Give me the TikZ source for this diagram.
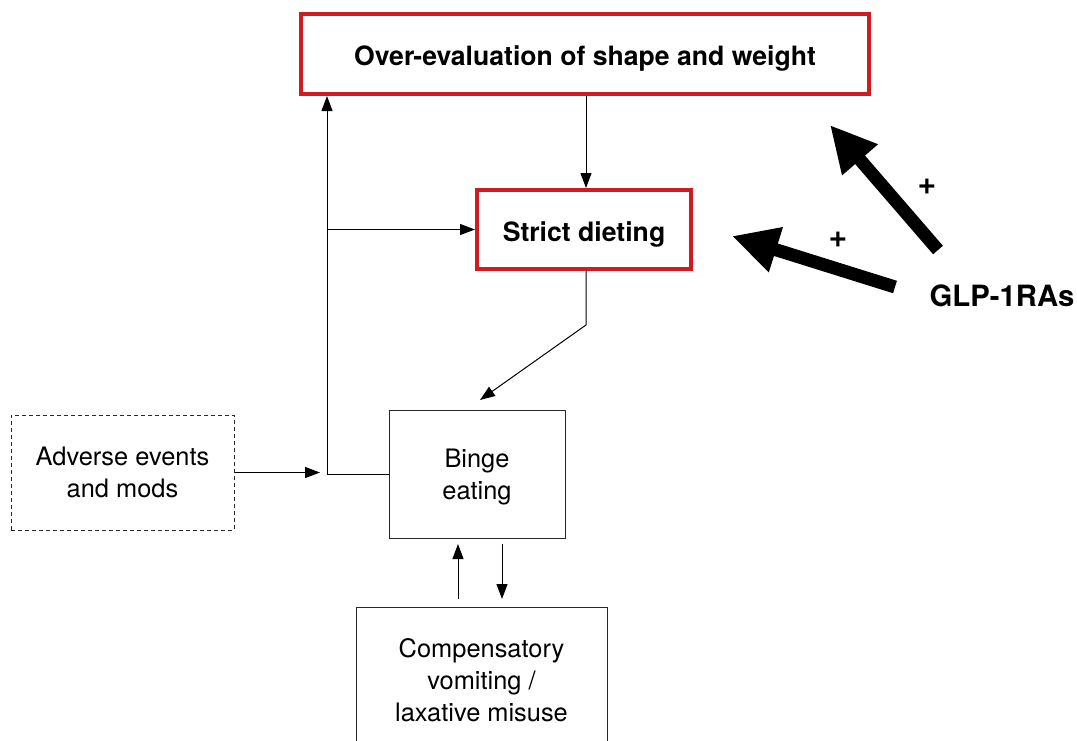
\documentclass[tikz,border=0pt]{standalone}
\usepackage{fontspec}
\setmainfont{TeX Gyre Heros}
\usetikzlibrary{arrows.meta,calc}
\definecolor{boxred}{RGB}{208,27,32}
\definecolor{linegray}{RGB}{40,40,40}
\begin{document}
\begin{tikzpicture}[x=1pt,y=-1pt,
  redbox/.style={draw=boxred, line width=4pt, align=center, inner sep=0pt,
    text height=23pt, text depth=0pt,
    font=\bfseries\fontsize{26.6}{30}\selectfont},
  plainbox/.style={draw=linegray, line width=1pt, align=center, inner sep=0pt,
    font=\fontsize{25.4}{32}\selectfont},
  dashbox/.style={plainbox, dash pattern=on 4pt off 3pt},
  arr/.style={-{Triangle[length=15pt,width=11pt]}, line width=1pt, draw=black},
  bigarr/.style={-{Triangle[length=46pt,width=44pt]}, line width=13pt, draw=black},
  plus/.style={font=\bfseries\fontsize{32}{34}\selectfont, inner sep=0pt},
  glpstyle/.style={font=\bfseries\fontsize{29.3}{34}\selectfont, inner sep=0pt}]
\useasboundingbox (0,0) rectangle (1077,740);
\clip (0,0) rectangle (1077,740);

\node[redbox, minimum width=568, minimum height=80] (top) at (585,54) {Over-evaluation of shape and weight};
\node[redbox, minimum width=214, minimum height=79] (strict) at (584,229.5) {Strict dieting};
\node[plainbox, minimum width=176, minimum height=128, text depth=-10pt] (binge) at (477,474) {Binge\\eating};
\node[dashbox, minimum width=223, minimum height=115] (adv) at (122.5,472.5) {Adverse events\\and mods};
\node[plainbox, minimum width=251, minimum height=146] (comp) at (481.5,680) {Compensatory\\vomiting /\\laxative misuse};

\coordinate (jx) at (327,0);
\coordinate (bend) at (586,325);
\coordinate (btip) at (480,400);
\coordinate (upS) at (458,599);
\coordinate (upE) at (458,544);
\coordinate (dnS) at (502,544);
\coordinate (dnE) at (502,599);

% connectors
\draw[arr] (top.south -| bend) -- (strict.north -| bend);
\draw[arr] (binge.west) -- (binge.west -| jx) -- (top.south -| jx);
\draw[arr] (strict.west -| jx) -- (strict.west);
\draw[arr] (adv.east) -- ($(adv.east -| jx)+(-7,0)$);
\draw[arr] (strict.south -| bend) -- (bend) -- (btip);
\draw[arr] (upS) -- (upE);
\draw[arr] (dnS) -- (dnE);

% GLP-1RAs
\node[glpstyle] (glp) at (1002,296) {GLP-1RAs};
\coordinate (t1) at (938,250);
\coordinate (h1) at (830,125);
\coordinate (t2) at (895,287);
\coordinate (h2) at (732,236);
\draw[bigarr] (t1) -- (h1);
\draw[bigarr] (t2) -- (h2);
\node[plus] (p1) at (927,187) {+};
\node[plus] (p2) at (838,240) {+};
\end{tikzpicture}
\end{document}
